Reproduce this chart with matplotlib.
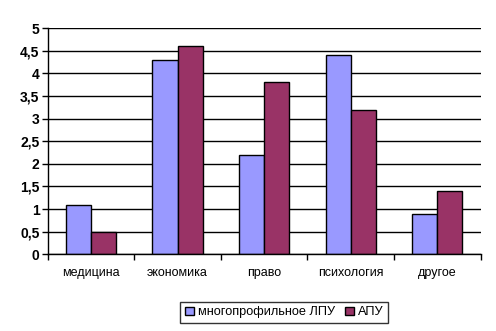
import numpy as np
import matplotlib.pyplot as plt
from matplotlib.ticker import FixedLocator, NullFormatter, FixedFormatter

plt.rcParams['font.family'] = ['Liberation Sans', 'DejaVu Sans']

categories = ['медицина', 'экономика', 'право', 'психология', 'другое']
series_names = ['многопрофильное ЛПУ', 'АПУ']
lpu = [1.1, 4.3, 2.2, 4.4, 0.9]
apu = [0.5, 4.6, 3.8, 3.2, 1.4]
yticks = [0, 0.5, 1, 1.5, 2, 2.5, 3, 3.5, 4, 4.5, 5]
ytick_labels = ['0', '0,5', '1', '1,5', '2', '2,5', '3', '3,5', '4', '4,5', '5']

fig = plt.figure(figsize=(4.96, 3.31), dpi=100)
ax = fig.add_axes([0.0962, 0.2317, 0.8729, 0.683])

x = np.arange(len(categories))
w = 0.29
ax.bar(x - w / 2, lpu, w, color='#9999FF', edgecolor='black', linewidth=1, label=series_names[0], zorder=3)
ax.bar(x + w / 2, apu, w, color='#993366', edgecolor='black', linewidth=1, label=series_names[1], zorder=3)

ax.set_xlim(-0.5, len(categories) - 0.5)
ax.set_ylim(0, 5)
ax.set_yticks(yticks)
ax.set_yticklabels(ytick_labels, fontweight='bold', fontsize=10)
ax.yaxis.grid(True, color='black', linewidth=1, zorder=0)

# category boundaries as major ticks, labels on minor ticks
ax.xaxis.set_major_locator(FixedLocator(np.arange(len(categories) + 1) - 0.5))
ax.xaxis.set_major_formatter(NullFormatter())
ax.xaxis.set_minor_locator(FixedLocator(x))
ax.xaxis.set_minor_formatter(FixedFormatter(categories))
ax.tick_params(axis='x', which='major', length=4, width=1, color='black')
ax.tick_params(axis='x', which='minor', length=0, pad=9, labelsize=9)
ax.tick_params(axis='y', length=4, width=1, color='black', pad=2)

for s in ['top', 'right']:
    ax.spines[s].set_visible(False)
for s in ['left', 'bottom']:
    ax.spines[s].set_linewidth(1)
    ax.spines[s].set_zorder(4)

leg = fig.legend(loc='center', bbox_to_anchor=(0.5726, 0.056), ncol=2, fontsize=9.2,
                 frameon=True, fancybox=False, edgecolor='black', handlelength=0.7,
                 handleheight=0.7, handletextpad=0.3, columnspacing=0.8,
                 borderpad=0.35)
leg.get_frame().set_linewidth(1)

fig.savefig('out.png', dpi=100)
